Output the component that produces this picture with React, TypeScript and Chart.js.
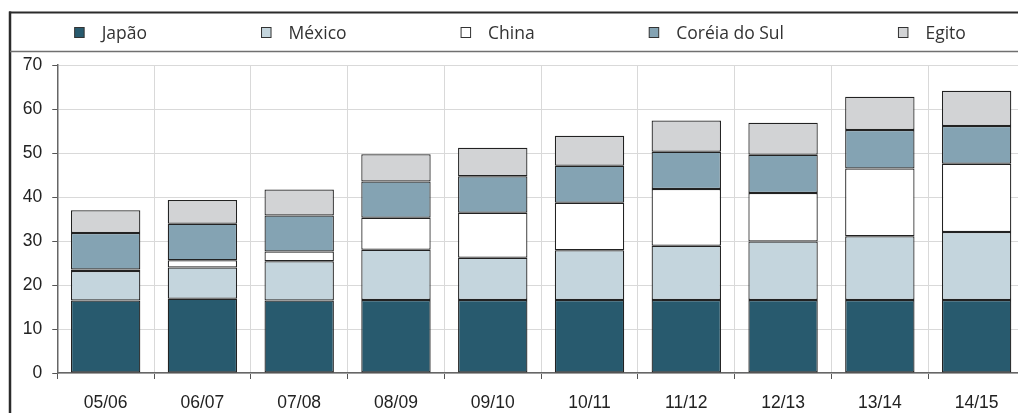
import React, { useEffect, useRef } from "react";
import { Chart, registerables } from "chart.js";

Chart.register(...registerables);

const categories = ["05/06", "06/07", "07/08", "08/09", "09/10", "10/11", "11/12", "12/13", "13/14", "14/15"];
const seriesLabels = ["Japão", "México", "China", "Coréia do Sul", "Egito"];
const japao = [16.5, 16.9, 16.5, 16.6, 16.6, 16.6, 16.6, 16.6, 16.6, 16.6];
const mexico = [6.7, 7.1, 8.9, 11.4, 9.6, 11.3, 12.3, 13.3, 14.5, 15.45];
const china = [0.3, 1.6, 2.2, 7.3, 10.2, 10.8, 12.9, 11.0, 15.4, 15.5];
const coreia = [8.3, 8.3, 8.2, 8.2, 8.3, 8.4, 8.5, 8.7, 8.7, 8.6];
const egito = [5.2, 5.4, 5.9, 6.2, 6.5, 6.8, 7.1, 7.3, 7.6, 8.0];
const yMin = 0;
const yMax = 70;
const yStep = 10;

const seriesValues = [japao, mexico, china, coreia, egito];
const seriesColors = ["#285a6e", "#c4d5dd", "#ffffff", "#84a3b3", "#d2d3d5"];

const framePlugin = {
  id: "frame",
  beforeDraw(chart: any) {
    const { ctx, width, height } = chart;
    ctx.save();
    ctx.strokeStyle = "#2b2b2b";
    ctx.lineWidth = 2;
    ctx.beginPath();
    ctx.moveTo(9, 12.5);
    ctx.lineTo(width - 10, 12.5);
    ctx.stroke();
    ctx.lineWidth = 2.5;
    ctx.beginPath();
    ctx.moveTo(10, 11.5);
    ctx.lineTo(10, height);
    ctx.stroke();
    ctx.strokeStyle = "#707070";
    ctx.lineWidth = 1.5;
    ctx.beginPath();
    ctx.moveTo(10, 51.5);
    ctx.lineTo(width - 10, 51.5);
    ctx.stroke();
    ctx.restore();
  },
};

const boxLegendPlugin = {
  id: "boxLegend",
  afterDraw(chart: any) {
    const { ctx, width } = chart;
    ctx.save();
    ctx.font = '17.5px "Open Sans"';
    ctx.textBaseline = "alphabetic";
    ctx.textAlign = "left";
    const boxToText = 27.5;
    const gap = 114;
    const items = chart.data.datasets.map((ds: any) => ({
      label: ds.label,
      fill: ds.backgroundColor,
      w: boxToText + ctx.measureText(ds.label).width,
    }));
    const total = items.reduce((s: number, it: any) => s + it.w, 0) + gap * (items.length - 1);
    let x = width / 2 - total / 2;
    for (const it of items) {
      ctx.fillStyle = it.fill;
      ctx.fillRect(x + 0.5, 27.5, 9.5, 10);
      ctx.strokeStyle = "#333333";
      ctx.lineWidth = 1;
      ctx.strokeRect(x + 0.5, 27.5, 9.5, 10);
      ctx.fillStyle = "#333333";
      ctx.fillText(it.label, x + boxToText, 39.2);
      x += it.w + gap;
    }
    ctx.restore();
  },
};

export default function App() {
  const canvasRef = useRef<HTMLCanvasElement | null>(null);

  useEffect(() => {
    if (!canvasRef.current) return;
    const chart = new Chart(canvasRef.current, {
      type: "bar",
      data: {
        labels: categories,
        datasets: seriesLabels.map((label, i) => ({
          label,
          data: seriesValues[i],
          backgroundColor: seriesColors[i],
          borderColor: "#222222",
          borderWidth: 1.25,
          borderSkipped: false,
          barPercentage: 0.717,
          categoryPercentage: 1,
        })),
      },
      options: {
        animation: false,
        responsive: true,
        maintainAspectRatio: false,
        layout: { padding: { top: 65, left: 12.8, right: 15, bottom: 0 } },
        plugins: {
          legend: { display: false },
          tooltip: { enabled: false },
          title: { display: false },
        },
        scales: {
          x: {
            stacked: true,
            offset: true,
            grid: {
              offset: true,
              color: "#d9d9d9",
              lineWidth: 1,
              tickColor: "#555555",
              tickLength: 6,
            },
            border: { color: "#666666", width: 1.5 },
            ticks: {
              color: "#222222",
              font: { family: '"Liberation Sans", Arial, sans-serif', size: 17.5 },
              padding: 14,
              maxRotation: 0,
            },
          },
          y: {
            stacked: true,
            min: yMin,
            max: yMax,
            grid: {
              color: "#d9d9d9",
              lineWidth: 1,
              tickColor: "#555555",
              tickLength: 5,
            },
            border: { color: "#666666", width: 1.5 },
            ticks: {
              stepSize: yStep,
              color: "#222222",
              font: { family: '"Liberation Sans", Arial, sans-serif', size: 17.5 },
              padding: 10,
            },
          },
        },
      },
      plugins: [framePlugin, boxLegendPlugin],
    });
    return () => chart.destroy();
  }, []);

  return (
    <div style={{ position: "absolute", left: 0, top: 0, width: 1018, height: 413, overflow: "hidden", background: "#fff" }}>
      <div style={{ position: "relative", width: 1040, height: 428 }}>
        <canvas ref={canvasRef} />
      </div>
    </div>
  );
}
